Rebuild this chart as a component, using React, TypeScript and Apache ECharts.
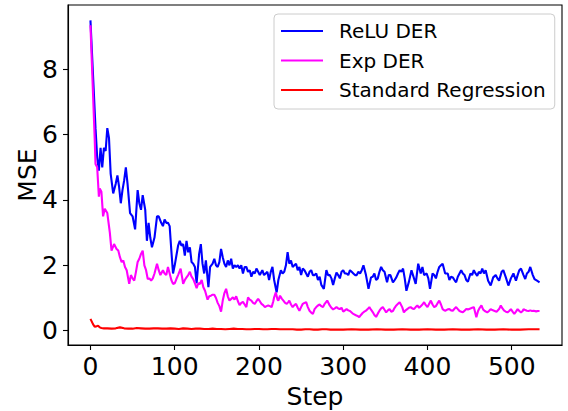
import React, { useEffect, useRef } from "react";
import * as echarts from "echarts";

const xTicks = [0, 100, 200, 300, 400, 500];
const yTicks = [0, 2, 4, 6, 8];
const seriesNames = ["ReLU DER", "Exp DER", "Standard Regression"];
const seriesColors = ["#0000ff", "#ff00ff", "#ff0000"];

// [step, MSE]
const reluDER: [number, number][] = [
  [0, 9.5], [6, 6.2], [8, 5.3], [10, 4.9], [12, 5.6], [14, 5.0], [16, 5.6], [18, 5.5], [20, 6.2], [22, 5.9],
  [24, 4.8], [27, 4.2], [30, 4.5], [32, 4.75], [34, 4.4], [36, 3.9], [38, 4.3], [40, 4.6], [42, 5.0], [44, 4.5],
  [47, 3.6], [50, 3.5], [53, 3.1], [56, 4.3], [58, 3.9], [60, 3.7], [62, 4.15], [65, 3.7], [67, 2.75], [69, 3.3],
  [71, 2.85], [73, 2.55], [76, 2.85], [79, 3.5], [81, 3.5], [84, 3.3], [86, 3.2], [88, 3.4], [90, 3.3], [92, 3.3],
  [94, 3.2], [96, 2.45], [98, 1.75], [100, 2.0], [102, 2.3], [104, 2.6], [106, 2.75], [108, 2.6], [110, 2.65], [112, 2.3],
  [114, 2.75], [116, 2.4], [118, 2.55], [120, 2.1], [122, 2.05], [124, 1.95], [126, 1.45], [129, 2.35], [131, 2.65], [133, 2.05],
  [135, 1.75], [137, 2.15], [140, 1.33], [142, 1.95], [145, 2.05], [147, 2.2], [149, 2.0], [151, 1.95], [153, 2.1], [155, 2.5],
  [157, 2.25], [159, 2.05], [161, 1.95], [163, 2.15], [165, 2.0], [167, 2.2], [169, 1.9], [171, 2.0], [173, 1.95], [175, 2.0],
  [177, 1.9], [179, 2.0], [181, 1.75], [183, 1.95], [185, 1.95], [187, 1.8], [189, 1.85], [191, 1.65], [193, 1.8], [195, 1.75],
  [197, 1.9], [199, 1.8], [201, 1.7], [204, 1.85], [206, 1.7], [208, 1.75], [210, 1.8], [212, 1.55], [214, 1.8], [216, 1.95],
  [218, 1.55], [221, 1.17], [223, 1.55], [226, 1.85], [228, 1.75], [230, 1.8], [232, 2.0], [234, 2.4], [236, 2.05], [238, 2.15],
  [240, 1.95], [242, 2.0], [244, 2.05], [246, 1.85], [248, 1.95], [250, 1.7], [252, 1.9], [254, 1.85], [256, 1.75], [258, 1.65],
  [260, 1.8], [262, 1.85], [264, 1.7], [266, 1.7], [268, 1.75], [270, 1.55], [272, 1.65], [274, 1.4], [277, 1.28], [280, 1.85],
  [282, 1.7], [284, 1.7], [286, 1.6], [288, 1.4], [290, 1.6], [292, 1.78], [294, 1.7], [296, 1.6], [298, 1.8], [300, 1.85],
  [302, 1.75], [304, 1.75], [306, 1.7], [308, 1.85], [310, 1.8], [312, 1.75], [314, 1.7], [316, 1.7], [318, 1.8], [320, 1.75],
  [322, 1.85], [324, 2.0], [327, 1.7], [330, 1.28], [333, 1.63], [335, 1.65], [337, 1.75], [339, 1.55], [341, 1.6], [343, 1.8],
  [345, 1.95], [347, 1.85], [349, 1.8], [352, 1.48], [354, 1.7], [356, 1.7], [359, 1.48], [361, 1.55], [363, 1.63], [365, 1.75],
  [367, 1.85], [369, 1.8], [371, 1.9], [373, 1.6], [375, 1.22], [378, 1.5], [381, 1.85], [384, 1.6], [386, 1.43], [389, 2.05],
  [392, 1.75], [394, 1.95], [396, 1.7], [399, 1.75], [401, 1.6], [403, 1.28], [406, 1.75], [408, 1.7], [410, 1.6], [412, 1.8],
  [414, 1.95], [416, 2.0], [418, 2.05], [421, 1.75], [424, 1.75], [426, 1.55], [428, 1.65], [430, 1.63], [432, 1.55], [434, 1.48],
  [436, 1.65], [438, 1.75], [440, 1.85], [442, 1.75], [444, 1.7], [446, 1.55], [448, 1.5], [451, 1.75], [453, 1.7], [455, 1.85],
  [457, 1.75], [459, 1.68], [461, 1.8], [463, 1.75], [465, 1.9], [467, 1.75], [469, 1.85], [472, 1.53], [475, 1.38], [478, 1.63],
  [481, 1.7], [483, 1.6], [485, 1.53], [488, 1.8], [490, 1.85], [493, 1.63], [496, 1.38], [499, 1.6], [502, 1.75], [505, 1.53],
  [507, 1.7], [509, 1.85], [511, 1.9], [514, 1.7], [516, 1.58], [518, 1.75], [520, 1.8], [522, 1.95], [525, 1.7], [527, 1.58],
  [530, 1.53], [533, 1.48],
];

const expDER: [number, number][] = [
  [0, 9.35], [5, 5.9], [6, 5.1], [8, 5.0], [10, 4.1], [11, 4.35], [13, 4.25], [15, 3.5], [17, 3.73], [20, 3.6],
  [23, 3.0], [25, 2.45], [28, 2.65], [31, 2.5], [33, 2.45], [35, 2.25], [37, 2.1], [39, 2.15], [41, 1.95], [43, 1.85],
  [46, 1.43], [48, 1.7], [50, 1.6], [52, 1.53], [54, 1.8], [56, 2.1], [58, 2.2], [60, 2.35], [62, 2.45], [64, 2.0],
  [66, 1.85], [68, 1.58], [70, 1.6], [72, 1.53], [74, 1.6], [76, 1.75], [79, 2.05], [81, 1.85], [83, 1.7], [86, 1.85],
  [88, 1.75], [90, 1.7], [92, 1.95], [94, 1.75], [96, 1.55], [98, 1.43], [100, 1.45], [102, 1.58], [104, 1.7], [107, 1.9],
  [109, 1.6], [110, 1.43], [112, 1.55], [114, 1.63], [116, 1.7], [118, 1.8], [120, 1.65], [122, 1.58], [124, 1.45], [126, 1.3],
  [128, 1.45], [130, 1.43], [132, 1.55], [134, 1.33], [136, 1.22], [139, 0.95], [141, 1.05], [143, 1.07], [145, 1.1], [147, 1.1],
  [149, 1.0], [151, 0.85], [153, 0.75], [155, 0.58], [157, 0.92], [159, 1.15], [161, 1.28], [163, 1.05], [165, 0.92], [167, 0.97],
  [169, 1.02], [171, 0.95], [173, 1.05], [175, 0.9], [177, 0.78], [179, 0.85], [181, 0.88], [183, 0.8], [185, 0.72], [187, 1.02],
  [189, 0.95], [191, 0.92], [193, 0.85], [195, 0.82], [197, 0.9], [199, 0.97], [201, 0.9], [203, 0.82], [205, 0.78], [207, 0.72],
  [209, 0.75], [211, 0.77], [213, 0.75], [215, 0.72], [217, 0.9], [218, 1.02], [220, 1.17], [222, 0.95], [223, 0.92], [225, 1.07],
  [227, 0.98], [229, 0.92], [231, 0.85], [233, 0.82], [235, 0.88], [236, 0.92], [238, 0.8], [240, 0.72], [242, 0.78], [244, 0.82],
  [246, 0.7], [248, 0.61], [250, 0.72], [252, 0.82], [254, 0.85], [256, 0.87], [258, 0.72], [260, 0.61], [262, 0.55], [264, 0.51],
  [266, 0.66], [268, 0.72], [270, 0.77], [272, 0.8], [274, 0.75], [276, 0.72], [278, 0.82], [281, 0.92], [284, 0.77], [286, 0.7],
  [288, 0.65], [290, 0.68], [292, 0.72], [294, 0.68], [296, 0.66], [298, 0.7], [300, 0.58], [302, 0.62], [304, 0.66], [306, 0.62],
  [308, 0.6], [311, 0.53], [313, 0.5], [315, 0.47], [317, 0.45], [319, 0.41], [321, 0.48], [323, 0.54], [325, 0.58], [327, 0.61],
  [329, 0.66], [331, 0.72], [333, 0.64], [335, 0.57], [337, 0.48], [339, 0.42], [341, 0.52], [343, 0.61], [345, 0.68], [347, 0.72],
  [349, 0.64], [351, 0.56], [353, 0.62], [355, 0.66], [357, 0.58], [359, 0.6], [361, 0.7], [363, 0.77], [365, 0.82], [367, 0.87],
  [370, 0.72], [372, 0.56], [374, 0.62], [376, 0.66], [378, 0.7], [380, 0.72], [382, 0.68], [384, 0.66], [386, 0.72], [388, 0.77],
  [390, 0.7], [392, 0.75], [394, 0.8], [396, 0.87], [398, 0.78], [400, 0.72], [402, 0.82], [404, 0.92], [406, 0.8], [408, 0.72],
  [410, 0.75], [412, 0.84], [414, 0.92], [416, 0.8], [418, 0.66], [420, 0.62], [421, 0.61], [424, 0.65], [426, 0.66], [428, 0.62],
  [430, 0.61], [432, 0.67], [434, 0.72], [436, 0.66], [438, 0.6], [440, 0.58], [442, 0.56], [444, 0.61], [446, 0.66], [448, 0.65],
  [451, 0.68], [453, 0.7], [455, 0.72], [458, 0.41], [460, 0.6], [462, 0.7], [464, 0.77], [466, 0.65], [468, 0.6], [471, 0.56],
  [473, 0.6], [475, 0.66], [477, 0.63], [479, 0.61], [482, 0.58], [485, 0.66], [487, 0.77], [489, 0.68], [491, 0.61], [493, 0.58],
  [495, 0.56], [497, 0.6], [499, 0.66], [501, 0.58], [503, 0.51], [505, 0.58], [507, 0.66], [509, 0.6], [511, 0.56], [513, 0.6],
  [514, 0.66], [516, 0.63], [518, 0.61], [520, 0.6], [522, 0.62], [524, 0.6], [526, 0.61], [529, 0.59], [531, 0.6], [533, 0.6],
];

const standardRegression: [number, number][] = [
  [0, 0.36], [3, 0.2], [5, 0.12], [7, 0.13], [9, 0.15], [11, 0.1], [13, 0.08], [16, 0.07], [20, 0.07], [25, 0.06],
  [30, 0.07], [35, 0.1], [40, 0.07], [45, 0.06], [50, 0.06], [55, 0.08], [60, 0.07], [65, 0.06], [70, 0.06], [75, 0.07],
  [80, 0.07], [85, 0.06], [90, 0.06], [95, 0.07], [100, 0.06], [105, 0.05], [110, 0.07], [115, 0.06], [120, 0.05], [125, 0.06],
  [130, 0.06], [135, 0.05], [140, 0.05], [145, 0.06], [150, 0.05], [155, 0.05], [160, 0.04], [165, 0.05], [170, 0.06], [175, 0.05],
  [180, 0.05], [185, 0.04], [190, 0.04], [195, 0.05], [200, 0.05], [205, 0.04], [210, 0.04], [215, 0.05], [220, 0.05], [225, 0.04],
  [230, 0.04], [235, 0.04], [240, 0.04], [245, 0.03], [250, 0.03], [255, 0.04], [260, 0.04], [265, 0.03], [270, 0.03], [275, 0.04],
  [280, 0.04], [285, 0.03], [290, 0.03], [295, 0.03], [300, 0.03], [310, 0.04], [320, 0.03], [330, 0.03], [340, 0.04], [350, 0.03],
  [360, 0.03], [370, 0.04], [380, 0.03], [390, 0.03], [400, 0.04], [410, 0.03], [420, 0.03], [430, 0.04], [440, 0.03], [450, 0.03],
  [460, 0.04], [470, 0.03], [480, 0.03], [490, 0.04], [500, 0.03], [510, 0.03], [520, 0.04], [533, 0.04],
];

const FONT = "DejaVu Sans";

export default function App() {
  const ref = useRef<HTMLDivElement>(null);
  useEffect(() => {
    const chart = echarts.init(ref.current!, null, { renderer: "svg" });
    const datasets = [reluDER, expDER, standardRegression];
    chart.setOption({
      animation: false,
      backgroundColor: "#ffffff",
      grid: {
        left: 68,
        top: 5,
        right: 6,
        bottom: 66,
        containLabel: false,
        outerBoundsMode: "none",
        show: true,
        borderColor: "#000000",
        borderWidth: 1.1,
        backgroundColor: "transparent",
      },
      legend: {
        data: seriesNames,
        orient: "vertical",
        left: 274,
        top: 14,
        icon: "rect",
        itemWidth: 42,
        itemHeight: 2,
        itemGap: 7.5,
        padding: [6, 9, 8, 7],
        backgroundColor: "rgba(255,255,255,0.8)",
        borderColor: "#cccccc",
        borderWidth: 1,
        borderRadius: 4,
        textStyle: {
          fontFamily: FONT,
          fontSize: 20,
          lineHeight: 22,
          color: "#000000",
          padding: [0, 0, 0, 11],
        },
      },
      xAxis: {
        type: "value",
        min: -26.65,
        max: 559.65,
        name: "Step",
        nameLocation: "middle",
        nameGap: 37,
        nameTextStyle: { fontFamily: FONT, fontSize: 25, color: "#000000" },
        splitLine: { show: false },
        axisLine: { show: true, onZero: false, lineStyle: { color: "#000000", width: 1.1 } },
        axisTick: { show: true, customValues: xTicks, length: 5, lineStyle: { color: "#000000", width: 1.1 } },
        axisLabel: { customValues: xTicks, fontFamily: FONT, fontSize: 25, color: "#000000", margin: 9 },
      },
      yAxis: {
        type: "value",
        min: -0.44,
        max: 9.97,
        name: "MSE",
        nameLocation: "middle",
        nameMoveOverlap: false,
        nameGap: 28,
        nameTextStyle: { fontFamily: FONT, fontSize: 25, color: "#000000" },
        splitLine: { show: false },
        axisLine: { show: true, onZero: false, lineStyle: { color: "#000000", width: 1.1 } },
        axisTick: { show: true, customValues: yTicks, length: 5, lineStyle: { color: "#000000", width: 1.1 } },
        axisLabel: { customValues: yTicks, fontFamily: FONT, fontSize: 25, color: "#000000", margin: 10 },
      },
      series: seriesNames.map((name, i) => ({
        name,
        type: "line",
        data: datasets[i],
        showSymbol: false,
        symbol: "none",
        color: seriesColors[i],
        lineStyle: { color: seriesColors[i], width: 2.1 },
        z: 2 + i,
      })),
    });
    return () => chart.dispose();
  }, []);
  return (
    <div
      ref={ref}
      style={{ position: "fixed", left: 0, top: 0, width: 568, height: 411 }}
    />
  );
}
